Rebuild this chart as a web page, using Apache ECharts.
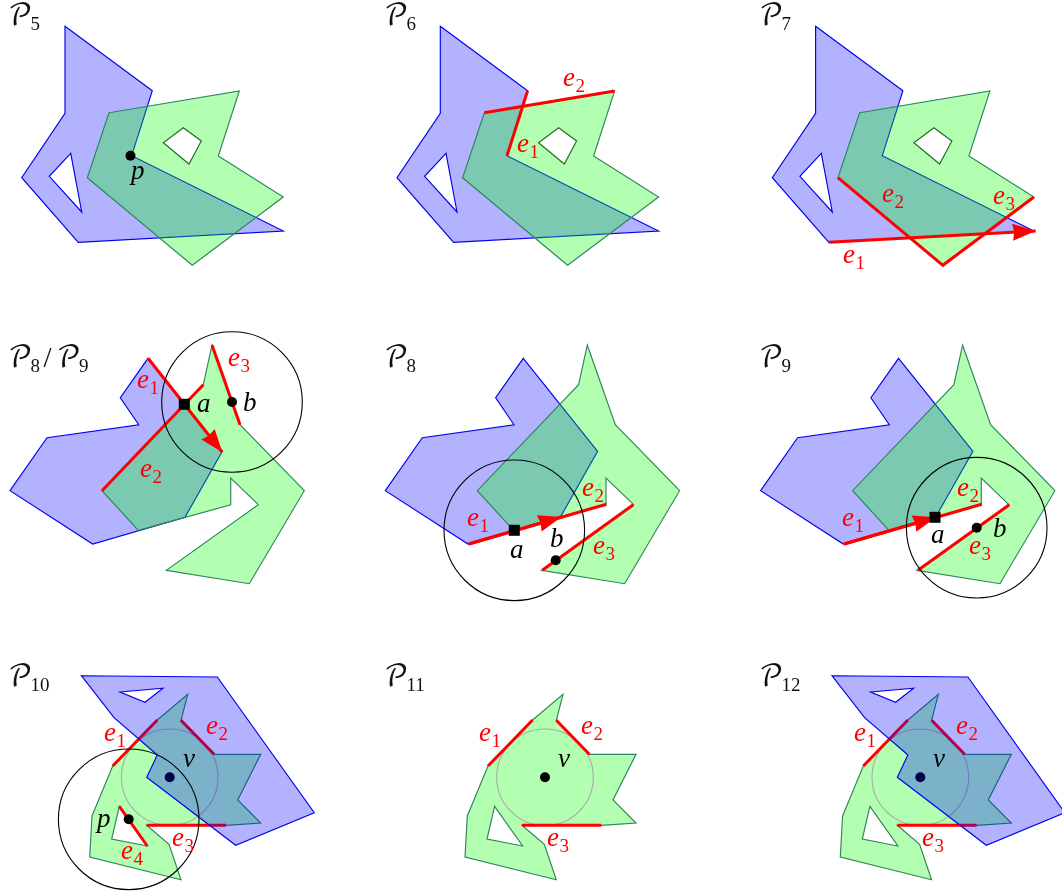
<!DOCTYPE html>
<html><head><meta charset="utf-8">
<style>html,body{margin:0;padding:0;background:#fff}#c{width:1062px;height:894px}</style>
<script src="https://cdn.jsdelivr.net/npm/echarts@6/dist/echarts.min.js"></script>
</head><body><div id="c"></div>
<script>
const colOffset = [0, 375.3, 750.6];
const topBlue = [[65,26.3],[152.3,90.7],[131.7,155.7],[283.3,231],[78.3,242.3],[21.7,177.7],[65,113.3]];
const topBlueHole = [[70.7,153.3],[49.3,176.3],[81.7,212]];
const topGreen = [[109,112.7],[239.3,91],[218.3,156],[283.3,197],[192.3,265.3],[87.3,177.7]];
const topGreenHole = [[183.3,127.7],[201.3,141],[189,164],[163.3,142.7]];
const midBlue = [[148,358.3],[222.3,451.3],[185,517.3],[92.7,544],[10,490.7],[47,437.7],[138.7,424.7],[120.3,397.7]];
const midGreen = [[212,345],[240,424.7],[304.3,490.7],[249.3,583.7],[166.3,570.3],[258.3,504.7],[230.7,478],[230.7,504.7],[138.3,530.3],[102,490.7],[203.3,384.7]];
const lowBlue = [[81.3,675.7],[217.3,677],[314.3,812.7],[235.7,845.3],[146.7,777.3],[157.3,755],[114,717.7]];
const lowBlueHole = [[120,692],[163,688.3],[145,702.3]];
const lowGreen = [[187.7,694.3],[181,720.3],[214,754.3],[260.7,754.3],[237.7,800],[260.7,823],[226,825.3],[146.7,825.3],[169,844.3],[181,879.7],[89.7,857],[92,816],[112.7,766],[157.3,720]];
const lowGreenHole = [[119.3,806.3],[147.3,846],[111.7,839]];

// panel-local edges
const edges6 = [[[152.3,90.7],[131.7,155.7]],[[109,112.7],[239.3,91]]];
const edges7 = [[[87.3,177.7],[192.3,265.3],[283.3,197]]];
const arrow7 = [[78.3,242.3],[285,231]];
const edges89 = [[[102,490.7],[203.3,384.7]],[[212,345],[240,424.7]]];
const arrow89 = [[148,358.3],[222.3,452.3]];
const edges8 = [[[93.4,544],[231,504.3]],[[258,504.7],[167,570.3]]];
const arrow8 = [[93.4,544],[186,517]];
const edges9 = [[[93.4,544],[231,504.3]],[[258.7,504.7],[167.4,570.3]]];
const arrow9 = [[93.4,544],[185.4,517.3]];
const edgesLow = [[[112.7,766],[157.3,720]],[[181,720.3],[214,754.3]],[[146.7,825.3],[226,825.3]]];
const edge10Extra = [[119.3,806.3],[147.3,846]];

const squareA = [[184.3,404.3],[139,530.3],[184.4,517.3]];
const dotB = [[232,402],[180.4,560.3],[226.1,527.7]];
const dotV = [169.7,777.3];
const dotP5 = [130.5,155.7];
const dotP10 = [128.7,819.3];
const labels5 = [['p','',131,173]];
const labels6 = [['e','1',517,146],['e','2',563,80]];
const labels7 = [['e','2',882,196],['e','3',993,198],['e','1',843,257]];
const labels89 = [['e','1',137,382],['a','',197,406],['b','',243,405],['e','3',228,360],['e','2',140,471]];
const labels8 = [['e','1',467,520],['e','2',582,490],['a','',510,552],['b','',550,541],['e','3',593,548]];
const labels9 = [['e','1',842,520],['e','2',957,490],['a','',931,537],['b','',993,531],['e','3',969,548]];
const labels10 = [['e','1',104,735],['e','2',206,728],['v','',183,761],['p','',97,821],['e','3',172,840],['e','4',121,853]];
const labels11 = [['e','1',479,735],['e','2',581,728],['v','',558,761],['e','3',547,840]];
const labels12 = [['e','1',854,735],['e','2',956,728],['v','',933,761],['e','3',922,840]];
const titleRows = [17,359,678];
const titleLeft = [8,384,759];

const BLUE_FILL='rgba(0,0,255,0.3)',GREEN_FILL='rgba(0,255,0,0.3)',BLUE='#0000ee',GREEN='#2e8558',RED='#ff0000';
const MATH="'Liberation Serif',serif", SCRIPT="'DejaVu Math TeX Gyre','Noto Sans Math','Liberation Serif',serif";
const sh=(pts,dx)=>pts.map(p=>[p[0]+dx,p[1]]);
const poly=(pts,dx,fill,stroke)=>({k:'poly',pts:sh(pts,dx),fill,stroke});
const hole=(pts,dx,stroke)=>({k:'poly',pts:sh(pts,dx),fill:'#fff',stroke});
const red=(pts,dx)=>({k:'line',pts:sh(pts,dx)});
const arrow=(pts,dx)=>[{k:'line',pts:sh(pts,dx)},{k:'head',pts:sh(pts,dx)}];
const dot=(p,dx)=>({k:'dot',p:[p[0]+dx,p[1]]});
const sq=(p,dx)=>({k:'sq',p:[p[0]+dx,p[1]]});
const ring=(p,dx,r,c)=>({k:'ring',p:[p[0]+dx,p[1]],r,c});
const tit=(x,y,parts)=>({k:'title',x,y,parts});

function topBase(dx){return [poly(topBlue,dx,BLUE_FILL,BLUE),hole(topBlueHole,dx,BLUE),poly(topGreen,dx,GREEN_FILL,GREEN),hole(topGreenHole,dx,'#1c6e1c')];}
function midBase(dx){return [poly(midBlue,dx,BLUE_FILL,BLUE),poly(midGreen,dx,GREEN_FILL,GREEN)];}
const lab=(l)=>l.map(a=>({k:'lab',a}));
const panels={
 'P5':[...topBase(0),dot(dotP5,0),...lab(labels5),tit(titleLeft[0],titleRows[0],[['𝒫','5']])],
 'P6':[...topBase(colOffset[1]),...edges6.map(e=>red(e,colOffset[1])),...lab(labels6),tit(titleLeft[1],titleRows[0],[['𝒫','6']])],
 'P7':[...topBase(colOffset[2]),...edges7.map(e=>red(e,colOffset[2])),...arrow(arrow7,colOffset[2]),...lab(labels7),tit(titleLeft[2],titleRows[0],[['𝒫','7']])],
 'P8/P9':[...midBase(0),...edges89.map(e=>red(e,0)),...arrow(arrow89,0),ring(dotB[0],0,70.3,'#000'),sq(squareA[0],0),dot(dotB[0],0),...lab(labels89),tit(titleLeft[0],titleRows[1],[['𝒫','8'],['/'],['𝒫','9']])],
 'P8':[...midBase(colOffset[1]),...edges8.map(e=>red(e,colOffset[1])),...arrow(arrow8,colOffset[1]),ring(squareA[1],colOffset[1],70.3,'#000'),sq(squareA[1],colOffset[1]),dot(dotB[1],colOffset[1]),...lab(labels8),tit(titleLeft[1],titleRows[1],[['𝒫','8']])],
 'P9':[...midBase(colOffset[2]),...edges9.map(e=>red(e,colOffset[2])),...arrow(arrow9,colOffset[2]),ring(dotB[2],colOffset[2],70.3,'#000'),sq(squareA[2],colOffset[2]),dot(dotB[2],colOffset[2]),...lab(labels9),tit(titleLeft[2],titleRows[1],[['𝒫','9']])],
 'P10':[poly(lowGreen,0,GREEN_FILL,GREEN),hole(lowGreenHole,0,GREEN),ring(dotV,0,48.3,'#aaaaaa'),...edgesLow.map(e=>red(e,0)),red(edge10Extra,0),dot(dotV,0),poly(lowBlue,0,BLUE_FILL,BLUE),hole(lowBlueHole,0,BLUE),ring(dotP10,0,70.3,'#000'),dot(dotP10,0),...lab(labels10),tit(titleLeft[0],titleRows[2],[['𝒫','10']])],
 'P11':[poly(lowGreen,colOffset[1],GREEN_FILL,GREEN),hole(lowGreenHole,colOffset[1],GREEN),ring(dotV,colOffset[1],48.3,'#aaaaaa'),...edgesLow.map(e=>red(e,colOffset[1])),dot(dotV,colOffset[1]),...lab(labels11),tit(titleLeft[1],titleRows[2],[['𝒫','11']])],
 'P12':[poly(lowGreen,colOffset[2],GREEN_FILL,GREEN),hole(lowGreenHole,colOffset[2],GREEN),ring(dotV,colOffset[2],48.3,'#aaaaaa'),...edgesLow.map(e=>red(e,colOffset[2])),dot(dotV,colOffset[2]),poly(lowBlue,colOffset[2],BLUE_FILL,BLUE),hole(lowBlueHole,colOffset[2],BLUE),...lab(labels12),tit(titleLeft[2],titleRows[2],[['𝒫','12']])]
};
function text(t,x,y,font,fill){return {type:'text',style:{text:t,x,y,font,fill,textAlign:'left',textVerticalAlign:'middle'}};}
function draw(m,api){
 const c=p=>api.coord(p);
 if(m.k==='poly')return {type:'polygon',shape:{points:m.pts.map(c)},style:{fill:m.fill,stroke:m.stroke,lineWidth:1.15,lineJoin:'miter'}};
 if(m.k==='line')return {type:'polyline',shape:{points:m.pts.map(c)},style:{fill:null,stroke:RED,lineWidth:3,lineJoin:'miter'}};
 if(m.k==='head'){const a=c(m.pts[0]),b=c(m.pts[1]);const L=Math.hypot(b[0]-a[0],b[1]-a[1]);const u=[(b[0]-a[0])/L,(b[1]-a[1])/L];const n=[-u[1],u[0]];const bx=[b[0]-u[0]*23,b[1]-u[1]*23];
  return {type:'polygon',shape:{points:[b,[bx[0]+n[0]*8.5,bx[1]+n[1]*8.5],[b[0]-u[0]*21.5,b[1]-u[1]*21.5],[bx[0]-n[0]*8.5,bx[1]-n[1]*8.5]]},style:{fill:RED}};}
 if(m.k==='dot'){const o=c(m.p);return {type:'circle',shape:{cx:o[0],cy:o[1],r:5},style:{fill:'#000'}};}
 if(m.k==='sq'){const o=c(m.p);return {type:'rect',shape:{x:o[0]-5.5,y:o[1]-5.5,width:11,height:11},style:{fill:'#000'}};}
 if(m.k==='ring'){const o=c(m.p);return {type:'circle',shape:{cx:o[0],cy:o[1],r:api.size([m.r,0])[0]},style:{fill:null,stroke:m.c,lineWidth:1.1}};}
 if(m.k==='lab'){const a=m.a;const o=c([a[2],a[3]]);const col=a[0]==='e'?RED:'#000';const ch=[text(a[0],o[0],o[1]-1,'italic 27px '+MATH,col)];
  if(a[1])ch.push(text(a[1],o[0]+12.5,o[1]+7,'19px '+MATH,col));
  return {type:'group',children:ch};}
 if(m.k==='title'){const o=c([m.x,m.y]);const ch=[];let x=o[0];
  m.parts.forEach(p=>{if(p[0]==='/'){ch.push(text('/',x+4,o[1],'29px '+MATH,'#111'));x+=17;return;}
   ch.push(text(p[0],x,o[1],'29px '+SCRIPT,'#111'));ch.push(text(p[1],x+22.5,o[1]+8,'19px '+MATH,'#111'));x+=22+9.5*p[1].length;});
  return {type:'group',children:ch};}
}
const chart=echarts.init(document.getElementById('c'),null,{renderer:'canvas'});
chart.setOption({animation:false,backgroundColor:'#fff',
 grid:{left:0,right:0,top:0,bottom:0},
 xAxis:{type:'value',min:0,max:1062,show:false},
 yAxis:{type:'value',min:0,max:894,inverse:true,show:false},
 series:Object.keys(panels).map(name=>({type:'custom',name,silent:true,coordinateSystem:'cartesian2d',clip:false,
  data:panels[name].map((m,i)=>[i]),encode:{x:0,y:0},
  renderItem:(params,api)=>draw(panels[name][params.dataIndex],api)}))
});
</script></body></html>
